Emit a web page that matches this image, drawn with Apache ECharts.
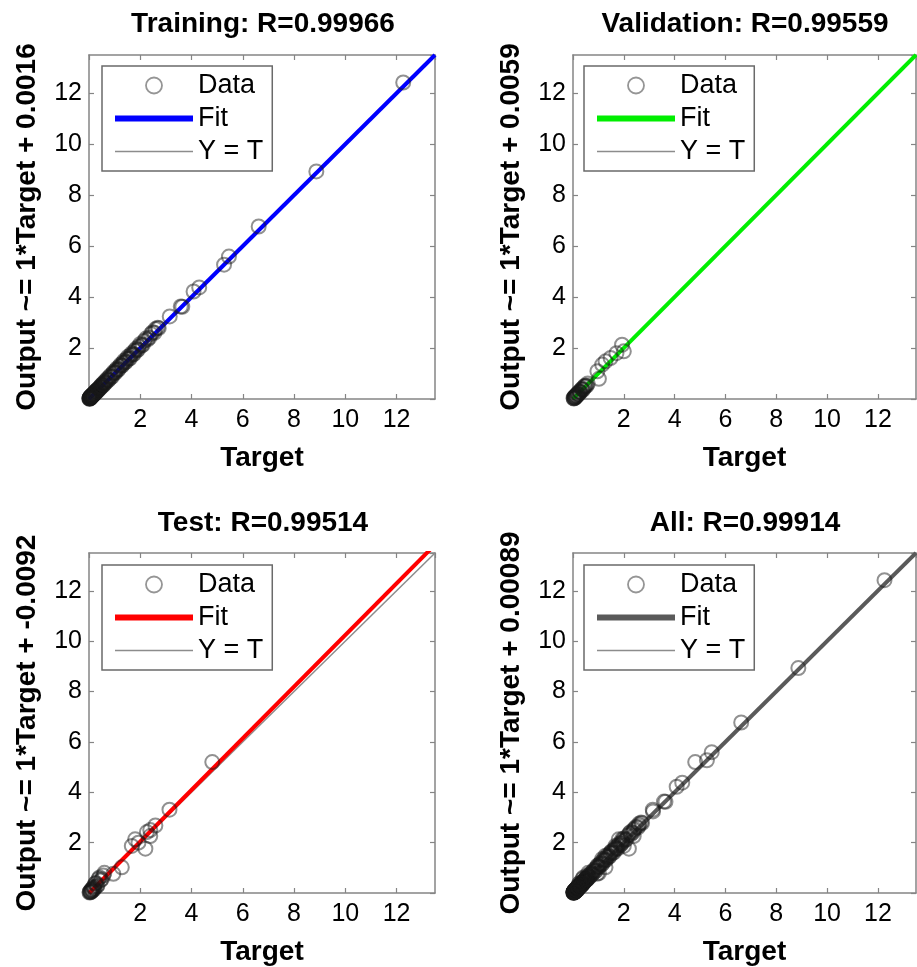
<!DOCTYPE html>
<html>
<head>
<meta charset="utf-8">
<script src="https://cdn.jsdelivr.net/npm/echarts@6/dist/echarts.min.js"></script>
<style>
html,body{margin:0;padding:0;background:#fff;}
#chart{width:917px;height:967px;}
</style>
</head>
<body>
<div id="chart"></div>
<script>
// ---------- data ----------
const tickValues = [2, 4, 6, 8, 10, 12];
const axisMin = 0;
const axisMax = 13.5;

const titles = ['Training: R=0.99966', 'Validation: R=0.99559', 'Test: R=0.99514', 'All: R=0.99914'];
const yLabels = ['Output ~= 1*Target + 0.0016', 'Output ~= 1*Target + 0.0059', 'Output ~= 1*Target + -0.0092', 'Output ~= 1*Target + 0.00089'];
const xLabel = 'Target';
const legendNames = ['Data', 'Fit', 'Y = T'];

const trainTarget = [0.02,0.03,0.04,0.05,0.05,0.06,0.07,0.08,0.09,0.1,0.11,0.12,0.13,0.14,0.15,0.17,0.18,0.2,0.21,0.23,0.25,0.27,0.29,0.31,0.34,0.37,0.4,0.43,0.46,0.5,0.54,0.58,0.63,0.68,0.74,0.8,0.86,0.93,1.0,1.06,1.12,1.2,1.27,1.33,1.4,1.48,1.55,1.62,1.7,1.78,1.86,1.95,2.05,2.16,2.28,2.42,2.55,2.68,2.72,3.15,3.58,3.64,4.08,4.3,5.27,5.46,6.62,8.87,12.26,
  0.01,0.02,0.03,0.04,0.06,0.07,0.08,0.1,0.11,0.12,0.14,0.16,0.19,0.22,0.24,0.26,0.28,0.32,0.35,0.38,0.42,0.45,0.48,0.52,0.57,0.61,0.66,0.71,0.77,0.83,0.9,0.97,1.03,1.09,1.16,1.23,1.3,1.37,1.44,1.52,1.6,1.67,1.75,1.83,1.91,2.0,2.1,2.22,2.35,2.48,2.6];
const trainOutput = [0.03,0.05,0.02,0.07,0.04,0.09,0.06,0.1,0.08,0.13,0.09,0.15,0.12,0.17,0.14,0.2,0.16,0.23,0.2,0.27,0.24,0.31,0.28,0.35,0.33,0.41,0.39,0.47,0.45,0.55,0.53,0.63,0.62,0.74,0.73,0.87,0.85,1.0,1.02,1.14,1.13,1.29,1.3,1.42,1.43,1.58,1.58,1.72,1.74,1.89,1.9,2.06,2.1,2.28,2.33,2.55,2.6,2.8,2.78,3.24,3.63,3.62,4.22,4.38,5.27,5.59,6.77,8.93,12.42,
  0.02,0.01,0.03,0.06,0.05,0.1,0.07,0.09,0.14,0.11,0.13,0.19,0.18,0.21,0.28,0.25,0.33,0.3,0.38,0.37,0.44,0.5,0.48,0.58,0.56,0.68,0.65,0.79,0.76,0.92,0.88,1.07,1.04,1.2,1.17,1.35,1.32,1.5,1.46,1.66,1.6,1.8,1.76,1.97,1.94,2.16,2.13,2.37,2.4,2.62,2.75];

const valTarget = [0.03,0.05,0.08,0.1,0.13,0.16,0.2,0.24,0.28,0.33,0.38,0.44,0.5,0.58,0.96,1.02,1.15,1.28,1.48,1.71,1.93,2.0,
  0.02,0.04,0.07,0.09,0.12,0.15,0.18,0.22,0.26,0.3,0.35,0.41,0.47,0.54];
const valOutput = [0.02,0.07,0.05,0.12,0.1,0.19,0.17,0.27,0.26,0.37,0.35,0.48,0.5,0.61,1.09,0.79,1.35,1.48,1.61,1.8,2.13,1.87,
  0.04,0.03,0.09,0.06,0.14,0.13,0.22,0.2,0.3,0.28,0.4,0.39,0.52,0.53];

const testTarget = [0.03,0.06,0.09,0.12,0.16,0.2,0.24,0.3,0.37,0.45,0.56,0.6,0.95,1.28,1.67,1.8,1.93,2.2,2.26,2.39,2.39,2.59,3.14,4.81,
  0.02,0.05,0.08,0.11,0.14,0.18,0.22,0.27,0.33,0.41,0.5];
const testOutput = [0.04,0.03,0.11,0.08,0.2,0.15,0.37,0.26,0.56,0.5,0.69,0.8,0.76,1.02,1.87,2.13,2.0,1.76,2.42,2.5,2.26,2.68,3.31,5.2,
  0.02,0.07,0.05,0.15,0.11,0.25,0.2,0.4,0.3,0.62,0.55];

const allTarget = trainTarget.concat(valTarget, testTarget);
const allOutput = trainOutput.concat(valOutput, testOutput);

const fitX = [0, 13.5];
const trainFitY = [0.0016, 13.5016];
const valFitY = [0.0059, 13.5059];
const testFitY = [-0.0092, 13.83];
const allFitY = [0.00089, 13.50089];
const identityX = [0, 13.5];
const identityY = [0, 13.5];

// ---------- layout / style ----------
const FONT = '"Liberation Sans", Arial, Helvetica, sans-serif';
const fitColors = ['#0000ff', '#00ee00', '#ff0000', '#5a5a5a'];
const panelData = [
  [trainTarget, trainOutput, trainFitY],
  [valTarget, valOutput, valFitY],
  [testTarget, testOutput, testFitY],
  [allTarget, allOutput, allFitY]
];
const grids = [
  {left: 89, top: 55, width: 346, height: 344},
  {left: 573, top: 55, width: 343, height: 344},
  {left: 89, top: 553, width: 346, height: 345},
  {left: 573, top: 553, width: 343, height: 345}
];
const titlePos = [[263, 24], [745, 24], [263, 523], [745, 523]];
const legendPos = [[102, 66], [584, 66], [102, 565], [584, 565]];

function zip(a, b) { return a.map((v, i) => [v, b[i]]); }

const axisLineStyle = {color: '#858585', width: 1.5};
function makeX(gi, pos) {
  const main = pos === 'bottom';
  return {
    type: 'value', gridIndex: gi, position: pos, min: axisMin, max: axisMax, interval: 2,
    axisLine: {show: true, onZero: false, lineStyle: axisLineStyle},
    axisTick: {show: true, inside: true, length: 5, lineStyle: {color: '#858585', width: 1.2}},
    axisLabel: {show: main, color: '#000', fontSize: 25, fontFamily: FONT, margin: 9,
      showMinLabel: false, showMaxLabel: false,
      formatter: v => tickValues.indexOf(v) >= 0 ? String(v) : ''},
    splitLine: {show: false},
    name: main ? xLabel : '', nameLocation: 'middle', nameGap: 45,
    nameTextStyle: {fontSize: 28, fontWeight: 'bold', color: '#000', fontFamily: FONT}
  };
}
function makeY(gi, pos, label) {
  const main = pos === 'left';
  return {
    type: 'value', gridIndex: gi, position: pos, min: axisMin, max: axisMax, interval: 2,
    axisLine: {show: true, onZero: false, lineStyle: axisLineStyle},
    axisTick: {show: true, inside: true, length: 5, lineStyle: {color: '#858585', width: 1.2}},
    axisLabel: {show: main, color: '#000', fontSize: 25, fontFamily: FONT, margin: 7,
      showMinLabel: false, showMaxLabel: false,
      formatter: v => tickValues.indexOf(v) >= 0 ? String(v) : ''},
    splitLine: {show: false},
    name: main ? label : '', nameLocation: 'middle', nameGap: 48,
    nameTextStyle: {fontSize: 28, fontWeight: 'bold', color: '#000', fontFamily: FONT}
  };
}

const xAxes = [], yAxes = [], series = [], legends = [], graphics = [];
for (let p = 0; p < 4; p++) {
  xAxes.push(makeX(p, 'bottom'), makeX(p, 'top'));
  yAxes.push(makeY(p, 'left', yLabels[p]), makeY(p, 'right', ''));
  const [T, Y, FY] = panelData[p];
  const xi = 2 * p, yi = 2 * p;
  series.push({
    type: 'line', name: legendNames[2] + '|' + p, xAxisIndex: xi, yAxisIndex: yi,
    data: zip(identityX, identityY), symbol: 'none', silent: true,
    lineStyle: {color: '#8c8c8c', width: 1.5}, itemStyle: {color: '#8c8c8c'}, z: 2
  });
  series.push({
    type: 'line', name: legendNames[1] + '|' + p, xAxisIndex: xi, yAxisIndex: yi,
    data: zip(fitX, FY), symbol: 'none', silent: true, clip: true,
    lineStyle: {color: fitColors[p], width: 4}, itemStyle: {color: fitColors[p]}, z: 3
  });
  series.push({
    type: 'scatter', name: legendNames[0] + '|' + p, xAxisIndex: xi, yAxisIndex: yi,
    data: zip(T, Y), symbol: 'circle', symbolSize: 14, silent: true,
    itemStyle: {color: 'rgba(0,0,0,0)', borderColor: 'rgba(25,25,25,0.6)', borderWidth: 2}, z: 4
  });
  legends.push({
    left: legendPos[p][0], top: legendPos[p][1], orient: 'vertical',
    padding: [6, 9, 6, 13], itemGap: 6, itemWidth: 78, itemHeight: 16,
    borderColor: '#6a6a6a', borderWidth: 1.5, backgroundColor: '#fff',
    selectedMode: false, symbolKeepAspect: true,
    textStyle: {fontSize: 27, color: '#000', fontFamily: FONT, lineHeight: 27},
    formatter: n => n.split('|')[0],
    data: [
      {name: legendNames[0] + '|' + p, icon: 'circle',
        itemStyle: {color: 'rgba(0,0,0,0)', borderColor: '#7a7a7a', borderWidth: 1.8}},
      {name: legendNames[1] + '|' + p, icon: 'path://M0 0H78V6H0Z',
        itemStyle: {color: fitColors[p], borderWidth: 0}},
      {name: legendNames[2] + '|' + p, icon: 'path://M0 0H78V1.6H0Z',
        itemStyle: {color: '#8c8c8c', borderWidth: 0}}
    ]
  });
  graphics.push({
    type: 'text', x: titlePos[p][0], y: titlePos[p][1],
    style: {text: titles[p], fill: '#000', font: 'bold 28px ' + FONT, align: 'center', verticalAlign: 'middle'}
  });
}

const chart = echarts.init(document.getElementById('chart'), null, {renderer: 'canvas'});
chart.setOption({
  animation: false,
  backgroundColor: '#fff',
  grid: grids.map(g => Object.assign({containLabel: false}, g)),
  xAxis: xAxes,
  yAxis: yAxes,
  legend: legends,
  graphic: graphics,
  series: series
});
</script>
</body>
</html>
